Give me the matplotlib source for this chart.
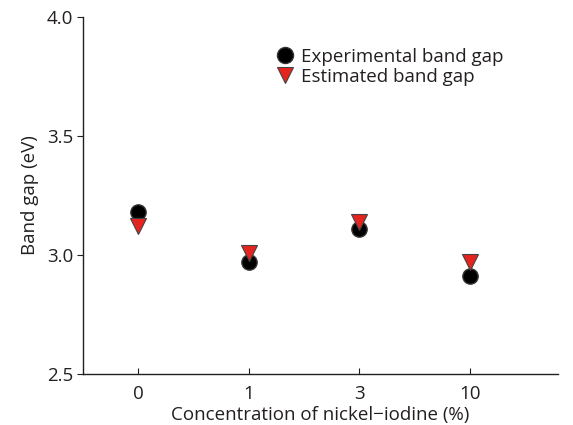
import matplotlib
matplotlib.use('Agg')
import matplotlib.pyplot as plt

# data
concentrations = ['0', '1', '3', '10']
experimental = [3.18, 2.97, 3.11, 2.91]
estimated = [3.12, 3.01, 3.14, 2.97]

TXT = '#231f20'
plt.rcParams['font.family'] = ['Open Sans', 'DejaVu Sans']

fig = plt.figure(figsize=(5.73, 4.25), dpi=100)
ax = fig.add_axes([0.145, 0.12, 0.829, 0.84])

x = range(len(concentrations))
ax.plot(x, experimental, 'o', ms=11, color='black', mec='#333333',
        label='Experimental band gap', zorder=3)
ax.plot(x, estimated, 'v', ms=11, color='#e5231f', mec='#444444', mew=0.8,
        label='Estimated band gap', zorder=4)

ax.set_xlim(-0.5, 3.8)
ax.set_ylim(2.5, 4.0)
ax.set_xticks(list(x))
ax.set_xticklabels(concentrations)
ax.set_yticks([2.5, 3.0, 3.5, 4.0])
ax.set_yticklabels(['2.5', '3.0', '3.5', '4.0'])

for side in ['top', 'right']:
    ax.spines[side].set_visible(False)
for side in ['left', 'bottom']:
    ax.spines[side].set_color(TXT)
    ax.spines[side].set_linewidth(1.0)

ax.tick_params(axis='y', direction='out', length=4, colors=TXT, labelsize=13.5, pad=3)
ax.tick_params(axis='x', direction='in', length=4, colors=TXT, labelsize=13.5, pad=8)

ax.set_xlabel('Concentration of nickel\u2212iodine (%)', fontsize=13.5, color=TXT, labelpad=2)
ax.set_ylabel('Band gap (eV)', fontsize=13.5, color=TXT, labelpad=6)

ax.legend(loc='upper left', bbox_to_anchor=(0.385, 0.935), frameon=False,
          fontsize=13.5, handletextpad=0.25, labelspacing=0.1,
          borderaxespad=0, handlelength=1.2, labelcolor=TXT, markerscale=1.05)

fig.savefig('out.png', dpi=100)
